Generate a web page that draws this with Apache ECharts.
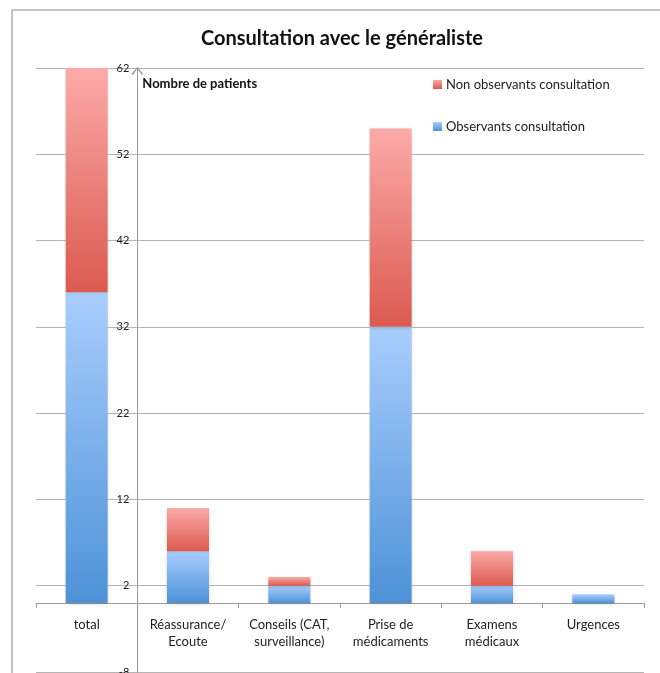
<!DOCTYPE html>
<html>
<head>
<meta charset="utf-8">
<script src="https://cdn.jsdelivr.net/npm/echarts@6/dist/echarts.min.js"></script>
<style>
  html, body { margin: 0; padding: 0; background: #fff; }
  #chart { width: 660px; height: 673px; }
</style>
</head>
<body>
<div id="chart"></div>
<script>
// Categories of consultation and patient counts
var categories = ['total', 'Réassurance/\nEcoute', 'Conseils (CAT,\nsurveillance)', 'Prise de\nmédicaments', 'Examens\nmédicaux', 'Urgences'];
var observants = [36, 6, 2, 32, 2, 1];
var nonObservants = [26, 5, 1, 23, 4, 0];
var seriesNames = ['Observants consultation', 'Non observants consultation'];
var yTicks = { min: -8, max: 62, step: 10 };

var FONT = 'Lato';

function grad(top, bottom) {
  return new echarts.graphic.LinearGradient(0, 0, 0, 1, [
    { offset: 0, color: top },
    { offset: 1, color: bottom }
  ]);
}

var chart = echarts.init(document.getElementById('chart'), null, { renderer: 'canvas' });

var W = 660, H = 673;
var gridLeft = 36, gridRight = 16, gridTop = 68, gridBottom = 1;
var plotWidth = W - gridLeft - gridRight;
var plotHeight = H - gridTop - gridBottom;
var catWidth = plotWidth / categories.length;
// Category axis sits on the value 0 line, the value axis crosses between the 1st and 2nd category
var zeroLift = plotHeight * (0 - yTicks.min) / (yTicks.max - yTicks.min);

chart.setOption({
  animation: false,
  backgroundColor: '#ffffff',
  textStyle: { fontFamily: FONT },
  title: {
    text: 'Consultation avec le généraliste',
    left: 196,
    top: 24,
    textStyle: { fontFamily: FONT, fontWeight: 'bold', fontSize: 20, color: '#111' }
  },
  legend: {
    data: [seriesNames[1], seriesNames[0]],
    orient: 'vertical',
    left: 428,
    top: 73,
    itemWidth: 9,
    itemHeight: 9,
    itemGap: 29,
    icon: 'rect',
    textStyle: { fontFamily: FONT, fontSize: 13, color: '#222', padding: [0, 0, 0, -1] }
  },
  grid: { left: gridLeft, right: gridRight, top: gridTop, bottom: gridBottom, containLabel: false, outerBoundsMode: 'none' },
  xAxis: {
    type: 'category',
    data: categories,
    position: 'bottom',
    offset: -zeroLift,
    axisLine: { onZero: false, lineStyle: { color: '#9a9a9a', width: 1 } },
    axisTick: { show: true, length: 5, lineStyle: { color: '#9a9a9a' } },
    axisLabel: { show: true, interval: 0, fontFamily: FONT, fontSize: 13, color: '#222', margin: 13, lineHeight: 17 },
    splitLine: { show: false }
  },
  yAxis: {
    type: 'value',
    min: yTicks.min,
    max: yTicks.max,
    interval: yTicks.step,
    offset: -catWidth,
    name: 'Nombre de patients',
    nameLocation: 'end',
    nameGap: -22,
    nameTextStyle: { fontFamily: FONT, fontWeight: 'bold', fontSize: 13, color: '#111', align: 'left', padding: [0, 0, 0, 5] },
    axisLine: {
      show: true,
      lineStyle: { color: '#9a9a9a', width: 1 },
      symbol: ['none', 'path://M0,6 L5,0 L10,6 L9,7 L5,1.6 L1,7 Z'],
      symbolSize: [12, 8],
      symbolOffset: [0, -3]
    },
    axisTick: { show: false },
    axisLabel: { fontFamily: FONT, fontSize: 11, color: '#222', margin: 8 },
    splitLine: { show: true, lineStyle: { color: '#b4b4b4', width: 1 } }
  },
  series: [
    {
      name: seriesNames[0],
      type: 'bar',
      stack: 'patients',
      barWidth: 42,
      data: observants,
      itemStyle: {
        color: grad('#a9cefd', '#4d92d8'),
        shadowColor: 'rgba(0,0,0,0.18)', shadowBlur: 3, shadowOffsetY: 1
      }
    },
    {
      name: seriesNames[1],
      type: 'bar',
      stack: 'patients',
      barWidth: 42,
      data: nonObservants,
      itemStyle: {
        color: grad('#fcaaa8', '#db5a4f'),
        shadowColor: 'rgba(0,0,0,0.18)', shadowBlur: 3, shadowOffsetY: 1
      }
    }
  ],
  graphic: [
    {
      type: 'rect',
      silent: true,
      z: -1,
      shape: { x: 12, y: 10, width: 700, height: 700 },
      style: { fill: 'none', stroke: '#c4c4c4', lineWidth: 2 }
    }
  ]
});
</script>
</body>
</html>
